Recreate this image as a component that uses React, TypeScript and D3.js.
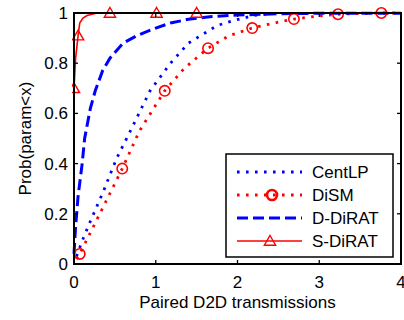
import * as d3 from 'd3';
import { useEffect, useRef } from 'react';

type Pt = [number, number];

const xTicks = [0, 1, 2, 3, 4];
const yTicks = [0, 0.2, 0.4, 0.6, 0.8, 1];

const centLp: Pt[] = [
  [0.03, 0.03], [0.11, 0.1], [0.2, 0.17], [0.36, 0.29], [0.52, 0.42], [0.69, 0.53],
  [0.93, 0.69], [1.18, 0.8], [1.4, 0.88], [1.75, 0.95], [1.95, 0.97], [2.2, 0.99], [2.5, 1.0],
];

const diSm: Pt[] = [
  [0.03, 0.02], [0.07, 0.04], [0.3, 0.19], [0.59, 0.38], [0.8, 0.53], [1.11, 0.69], [1.35, 0.78],
  [1.64, 0.86], [1.9, 0.91], [2.18, 0.94], [2.45, 0.96], [2.69, 0.976], [3.0, 0.988],
  [3.23, 0.995], [3.5, 0.998], [3.76, 1.0], [4.0, 1.0],
];
const diSmMarks: Pt[] = [
  [0.07, 0.04], [0.59, 0.38], [1.11, 0.69], [1.64, 0.86], [2.18, 0.94], [2.69, 0.976], [3.23, 0.995], [3.76, 1.0],
];

const dDiRat: Pt[] = [
  [0, 0.04], [0.02, 0.15], [0.05, 0.27], [0.1, 0.4], [0.13, 0.5], [0.2, 0.62], [0.26, 0.69],
  [0.35, 0.77], [0.44, 0.82], [0.6, 0.88], [0.77, 0.91], [1.0, 0.94], [1.18, 0.96], [1.4, 0.975],
  [1.66, 0.985], [2.0, 0.992], [2.5, 0.997], [3.0, 0.999], [4.0, 0.999],
];

const sDiRat: Pt[] = [
  [0, 0.4], [0, 0.7], [0.02, 0.82], [0.05, 0.91], [0.07, 0.96], [0.11, 0.98], [0.16, 0.99],
  [0.28, 1.0], [0.44, 1.0], [1.01, 1.0], [1.5, 1.0],
];
const sDiRatMarks: Pt[] = [[0, 0.7], [0.05, 0.91], [0.44, 1.0], [1.01, 1.0], [1.5, 1.0]];

const legendNames = ['CentLP', 'DiSM', 'D-DiRAT', 'S-DiRAT'];

const font = '"Liberation Sans", Arial, sans-serif';
const FS = 17;
const BLUE = '#0000ff';
const RED = '#ff0000';
const DOTS = '2.6,6.4';
const DASH = '11,5';

export default function App() {
  const ref = useRef<SVGSVGElement | null>(null);

  useEffect(() => {
    const svg = d3.select(ref.current);
    svg.selectAll('*').remove();
    const left = 74, right = 401, top = 13, bottom = 264;

    const x = d3.scaleLinear().domain([0, 4]).range([left, right]);
    const y = d3.scaleLinear().domain([0, 1]).range([bottom, top]);
    const line = d3.line<Pt>().x((d) => x(d[0])).y((d) => y(d[1]));

    const clip = svg.append('clipPath').attr('id', 'plotclip');
    clip.append('rect').attr('x', left - 2).attr('y', top - 8).attr('width', right - left + 10).attr('height', bottom - top + 10);

    const plot = svg.append('g').attr('clip-path', 'url(#plotclip)');

    plot.append('path').attr('d', line(centLp)!).attr('fill', 'none').attr('stroke', BLUE)
      .attr('stroke-width', 2.8).attr('stroke-dasharray', DOTS);
    plot.append('path').attr('d', line(diSm)!).attr('fill', 'none').attr('stroke', RED)
      .attr('stroke-width', 2.8).attr('stroke-dasharray', DOTS);
    plot.append('path').attr('d', line(dDiRat)!).attr('fill', 'none').attr('stroke', BLUE)
      .attr('stroke-width', 3).attr('stroke-dasharray', DASH);
    plot.append('path').attr('d', line(sDiRat)!).attr('fill', 'none').attr('stroke', RED)
      .attr('stroke-width', 1.6);

    const tri = d3.symbol().type(d3.symbolTriangle).size(55);

    plot.selectAll('circle.dism').data(diSmMarks).enter().append('circle')
      .attr('class', 'dism').attr('cx', (d) => x(d[0])).attr('cy', (d) => y(d[1])).attr('r', 5.2)
      .attr('fill', 'none').attr('stroke', RED).attr('stroke-width', 1.6);
    plot.selectAll('path.sdir').data(sDiRatMarks).enter().append('path')
      .attr('class', 'sdir').attr('d', tri()!)
      .attr('transform', (d) => `translate(${x(d[0])},${y(d[1]) + 1})`)
      .attr('fill', 'none').attr('stroke', RED).attr('stroke-width', 1.4);

    // axes frame + ticks
    const ax = svg.append('g');
    ax.append('rect').attr('x', left).attr('y', top).attr('width', right - left).attr('height', bottom - top)
      .attr('fill', 'none').attr('stroke', '#000').attr('stroke-width', 2);
    xTicks.forEach((t) => {
      ax.append('line').attr('x1', x(t)).attr('x2', x(t)).attr('y1', bottom).attr('y2', bottom - 4).attr('stroke', '#000').attr('stroke-width', 1.3);
      ax.append('line').attr('x1', x(t)).attr('x2', x(t)).attr('y1', top).attr('y2', top + 4).attr('stroke', '#000').attr('stroke-width', 1.3);
      ax.append('text').attr('x', x(t)).attr('y', 288).attr('text-anchor', 'middle')
        .attr('font-family', font).attr('font-size', FS).text(d3.format('d')(t));
    });
    yTicks.forEach((t) => {
      ax.append('line').attr('x1', left).attr('x2', left + 4).attr('y1', y(t)).attr('y2', y(t)).attr('stroke', '#000').attr('stroke-width', 1.3);
      ax.append('line').attr('x1', right).attr('x2', right - 4).attr('y1', y(t)).attr('y2', y(t)).attr('stroke', '#000').attr('stroke-width', 1.3);
      ax.append('text').attr('x', 68).attr('y', y(t) + 6).attr('text-anchor', 'end')
        .attr('font-family', font).attr('font-size', FS).text(String(t));
    });

    svg.append('text').attr('x', (left + right) / 2).attr('y', 308).attr('text-anchor', 'middle')
      .attr('font-family', font).attr('font-size', FS).text('Paired D2D transmissions');
    svg.append('text').attr('transform', `translate(31,${(top + bottom) / 2}) rotate(-90)`)
      .attr('text-anchor', 'middle').attr('font-family', font).attr('font-size', FS).text('Prob(param<x)');

    // legend
    const lg = svg.append('g');
    lg.append('rect').attr('x', 226).attr('y', 154).attr('width', 167).attr('height', 103)
      .attr('fill', '#fff').attr('stroke', '#000').attr('stroke-width', 1.5);
    const rows = d3.scalePoint<string>().domain(legendNames).range([172, 241]);
    const styles = [
      { c: BLUE, w: 2.8, da: DOTS },
      { c: RED, w: 2.8, da: DOTS },
      { c: BLUE, w: 3, da: DASH },
      { c: RED, w: 1.6, da: null },
    ];
    legendNames.forEach((n, i) => {
      const yy = rows(n)!;
      const s = styles[i];
      const l = lg.append('line').attr('x1', 237).attr('x2', 302).attr('y1', yy).attr('y2', yy)
        .attr('stroke', s.c).attr('stroke-width', s.w);
      if (s.da) l.attr('stroke-dasharray', s.da);
      lg.append('text').attr('x', 312).attr('y', yy + 6).attr('font-family', font).attr('font-size', FS).text(n);
    });
    lg.append('circle').attr('cx', 272).attr('cy', rows('DiSM')!).attr('r', 5).attr('fill', 'none')
      .attr('stroke', RED).attr('stroke-width', 2.6);
    lg.append('path').attr('d', tri()!).attr('transform', `translate(270,${rows('S-DiRAT')! + 1})`)
      .attr('fill', 'none').attr('stroke', RED).attr('stroke-width', 1.4);
  }, []);

  return (
    <svg ref={ref} width={404} height={320} style={{ position: 'absolute', left: 0, top: 0, background: '#fff' }}
      role="img" aria-label="CDF of paired D2D transmissions" />
  );
}
